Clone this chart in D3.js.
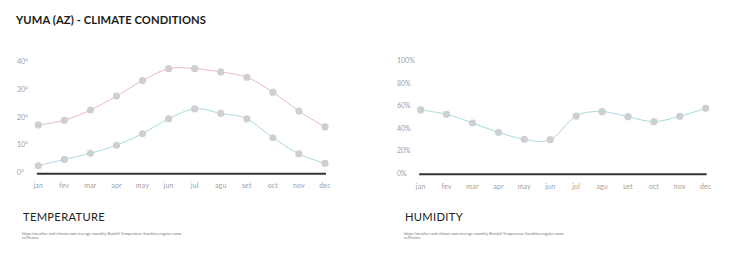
<!DOCTYPE html>
<html><head><meta charset="utf-8">
<script src="https://cdn.jsdelivr.net/npm/d3@7"></script>
<style>html,body{margin:0;padding:0;background:#fff;}svg{display:block;}</style>
</head><body>
<svg id="c" width="730" height="257"></svg>
<script>
const months = ["jan","fev","mar","apr","may","jun","jul","agu","set","oct","nov","dec"];
const tempHigh = [17.2,18.9,22.6,27.6,33.2,37.5,37.5,36.3,34.4,29.0,22.2,16.5];
const tempLow = [2.5,4.8,7.0,9.9,14.1,19.4,23.0,21.4,19.4,12.6,6.8,3.4];
const humidity = [56.4,52.5,44.8,36.5,30.3,29.9,51.0,54.9,50.4,46.0,50.8,57.9];
const tempTicks = [0,10,20,30,40];
const humTicks = [0,20,40,60,80,100];
const title = "YUMA (AZ) - CLIMATE CONDITIONS";
const sourceLines = ["https://weather-and-climate.com/average-monthly-Rainfall-Temperature-Sunshine,nogales-sono","ra,Mexico"];

const svg = d3.select("#c");
const font = "Lato, 'Open Sans', sans-serif";

svg.append("text").attr("x",16).attr("y",24).text(title)
  .attr("font-family",font).attr("font-weight",700).attr("font-size",11.2).attr("fill","#1a1a1a")
  .attr("letter-spacing",0.1);

function panel(opts){
  const g = svg.append("g");
  const x = d3.scalePoint().domain(months).range([opts.x0, opts.x1]);
  const y = d3.scaleLinear().domain([0, opts.max]).range([opts.y0, opts.y1]);
  g.selectAll("text.yt").data(opts.ticks).join("text").attr("class","yt")
    .attr("x",opts.labelX).attr("y",d=>y(d)).attr("dy","0.35em")
    .attr("font-family",font).attr("font-size",7).attr("fill","#a0a0a0")
    .text(opts.fmt);
  g.append("line").attr("x1",opts.x0-1.5).attr("x2",opts.x1+1).attr("y1",opts.y0+1).attr("y2",opts.y0+1)
    .attr("stroke","#333").attr("stroke-width",2);
  g.selectAll("text.xt").data(months).join("text").attr("class","xt")
    .attr("x",d=>x(d)).attr("y",opts.y0+13).attr("dy","0.35em").attr("text-anchor","middle")
    .attr("font-family",font).attr("font-size",7).attr("fill","#a0a0a0").attr("letter-spacing",0.2).text(d=>d);
  const line = d3.line().x((d,i)=>x(months[i])).y(d=>y(d)).curve(d3.curveCardinal);
  opts.series.forEach(s=>{
    g.append("path").attr("d",line(s.values)).attr("fill","none").attr("stroke",s.color).attr("stroke-width",1);
  });
  opts.series.forEach(s=>{
    g.selectAll(null).data(s.values).join("circle")
      .attr("cx",(d,i)=>x(months[i])).attr("cy",d=>y(d)).attr("r",3.6).attr("fill","#cfcfd1");
  });
  g.append("text").attr("x",opts.titleX).attr("y",221).text(opts.title)
    .attr("font-family",font).attr("font-size",11.2).attr("fill","#222").attr("letter-spacing",0.3);
  sourceLines.forEach((t,i)=>{
    g.append("text").attr("x",opts.titleX-1).attr("y",234.5+i*4.5).text(t)
      .attr("font-family",font).attr("font-size",3.8).attr("fill","#777");
  });
}

panel({x0:38.3,x1:325,y0:172.7,y1:61.7,max:40,ticks:tempTicks,labelX:17,fmt:d=>d+"°",
  title:"TEMPERATURE",titleX:23,
  series:[{values:tempHigh,color:"#ebb9c1"},{values:tempLow,color:"#a9d9e2"}]});
panel({x0:420.7,x1:705.7,y0:173.3,y1:61,max:100,ticks:humTicks,labelX:397,fmt:d=>d+"%",
  title:"HUMIDITY",titleX:405,
  series:[{values:humidity,color:"#a9d9e2"}]});
</script>
</body></html>
